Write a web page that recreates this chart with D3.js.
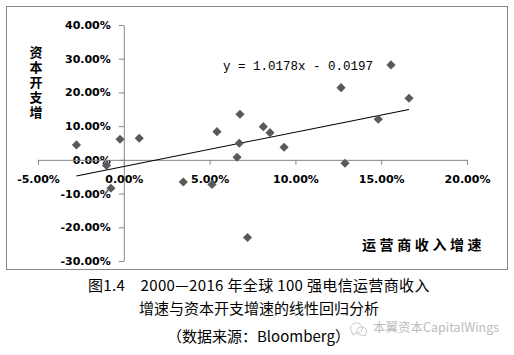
<!DOCTYPE html>
<html><head><meta charset="utf-8">
<script src="https://cdn.jsdelivr.net/npm/d3@7"></script>
<style>
html,body{margin:0;padding:0;background:#fff;}
svg{display:block;}
</style></head>
<body>
<script>
// Data (percent values)
const revenueGrowth = [-2.76,-0.22,0.90,-1.01,-0.75,3.47,5.14,5.43,6.77,8.13,8.52,6.73,6.60,9.34,15.57,12.66,16.62,14.83,12.89,7.21];
const capexGrowth   = [4.42,6.11,6.41,-1.66,-8.42,-6.56,-7.30,8.37,13.53,9.85,8.07,4.92,0.77,3.74,28.15,21.42,18.27,12.04,-1.01,-23.02];
const xTicks = [-5,0,5,10,15,20];
const yTicks = [-30,-20,-10,0,10,20,30,40];
const slope = 1.0178, intercept = -0.0197;
const equationText = "y = 1.0178x - 0.0197";
const yTitle = "资本开支增";
const xTitle = "运营商收入增速";
const captionLines = ["图1.4　2000—2016 年全球 100 强电信运营商收入","增速与资本开支增速的线性回归分析","（数据来源：Bloomberg）"];
const watermark = "本翼资本CapitalWings";

const W = 514, H = 355;
const svg = d3.select("body").append("svg").attr("width", W).attr("height", H);

// frame
svg.append("rect").attr("x",6.5).attr("y",6.5).attr("width",501).attr("height",263)
  .attr("fill","#fff").attr("stroke","#868686").attr("stroke-width",1);

const x = d3.scaleLinear().domain([-5,20]).range([38,467]);
const y = d3.scaleLinear().domain([-30,40]).range([261,25]);
const fmt = d => d.toFixed(2) + "%";

// y axis
const gy = svg.append("g").attr("transform",`translate(${x(0)},0)`)
  .call(d3.axisLeft(y).tickValues(yTicks).tickFormat(fmt).tickSize(5).tickPadding(8).tickSizeOuter(0));
// x axis
const gx = svg.append("g").attr("transform",`translate(0,${y(0)})`)
  .call(d3.axisBottom(x).tickValues(xTicks).tickFormat(fmt).tickSize(5).tickPadding(10).tickSizeOuter(0));
[gx,gy].forEach(g=>{
  g.select(".domain").attr("stroke","#868686");
  g.selectAll(".tick line").attr("stroke","#868686");
  g.selectAll("text").attr("fill","#000").style("font-family","DejaVu Sans, Verdana, sans-serif")
   .style("font-size","11px").style("font-weight","bold");
});

// trendline
const xmin = d3.min(revenueGrowth), xmax = d3.max(revenueGrowth);
const f = v => (slope*(v/100) + intercept)*100;
svg.append("line").attr("x1",x(xmin)).attr("y1",y(f(xmin))).attr("x2",x(xmax)).attr("y2",y(f(xmax)))
  .attr("stroke","#000").attr("stroke-width",1.1);

// points
const pts = revenueGrowth.map((v,i)=>[v,capexGrowth[i]]);
svg.append("g").selectAll("path").data(pts).join("path")
  .attr("d", d3.symbol().type(d3.symbolSquare).size(42))
  .attr("transform", d=>`translate(${x(d[0])},${y(d[1])}) rotate(45)`)
  .attr("fill","#595959");

// equation
svg.append("text").attr("x",223).attr("y",69.5).text(equationText)
  .style("font-family","Liberation Mono, monospace").style("font-size","12.5px").attr("fill","#000");

// y title vertical (single text, vertical writing mode)
svg.append("text").attr("x",36).attr("y",46).text(yTitle)
  .style("writing-mode","vertical-rl").style("text-orientation","upright")
  .style("font-family","Noto Sans CJK SC").style("font-size","13px").style("font-weight","bold")
  .style("letter-spacing","2px").attr("fill","#000");
// x title
svg.append("text").attr("x",362).attr("y",245).attr("dy","0.35em").text(xTitle)
  .style("font-family","Noto Sans CJK SC").style("font-size","14px").style("font-weight","bold")
  .style("letter-spacing","3.6px").attr("fill","#000");

// caption
const capStyle = s => s.style("font-family","Noto Sans CJK SC").style("font-size","15px").attr("fill","#000");
capStyle(svg.append("text").attr("x",88).attr("y",286).attr("dy","0.35em").style("letter-spacing","0.35px").text(captionLines[0]));
capStyle(svg.append("text").attr("x",139).attr("y",309).attr("dy","0.35em").text(captionLines[1]));
capStyle(svg.append("text").attr("x",167).attr("y",337).attr("dy","0.35em").text(captionLines[2]));

// watermark
const wm = svg.append("g").attr("fill","none").attr("stroke","#c8c8c8").attr("stroke-width",1);
wm.append("path").attr("d","M351,330 a6,5 0 1,1 5,3 l-3,2 z");
wm.append("path").attr("d","M366,333 a5,4 0 1,0 -4,2 l3,1 z");
svg.append("text").attr("x",373).attr("y",328).attr("dy","0.35em").text(watermark)
  .style("font-family","Noto Sans CJK SC").style("font-size","12.5px").attr("fill","#bdbdbd");
</script>
</body></html>
